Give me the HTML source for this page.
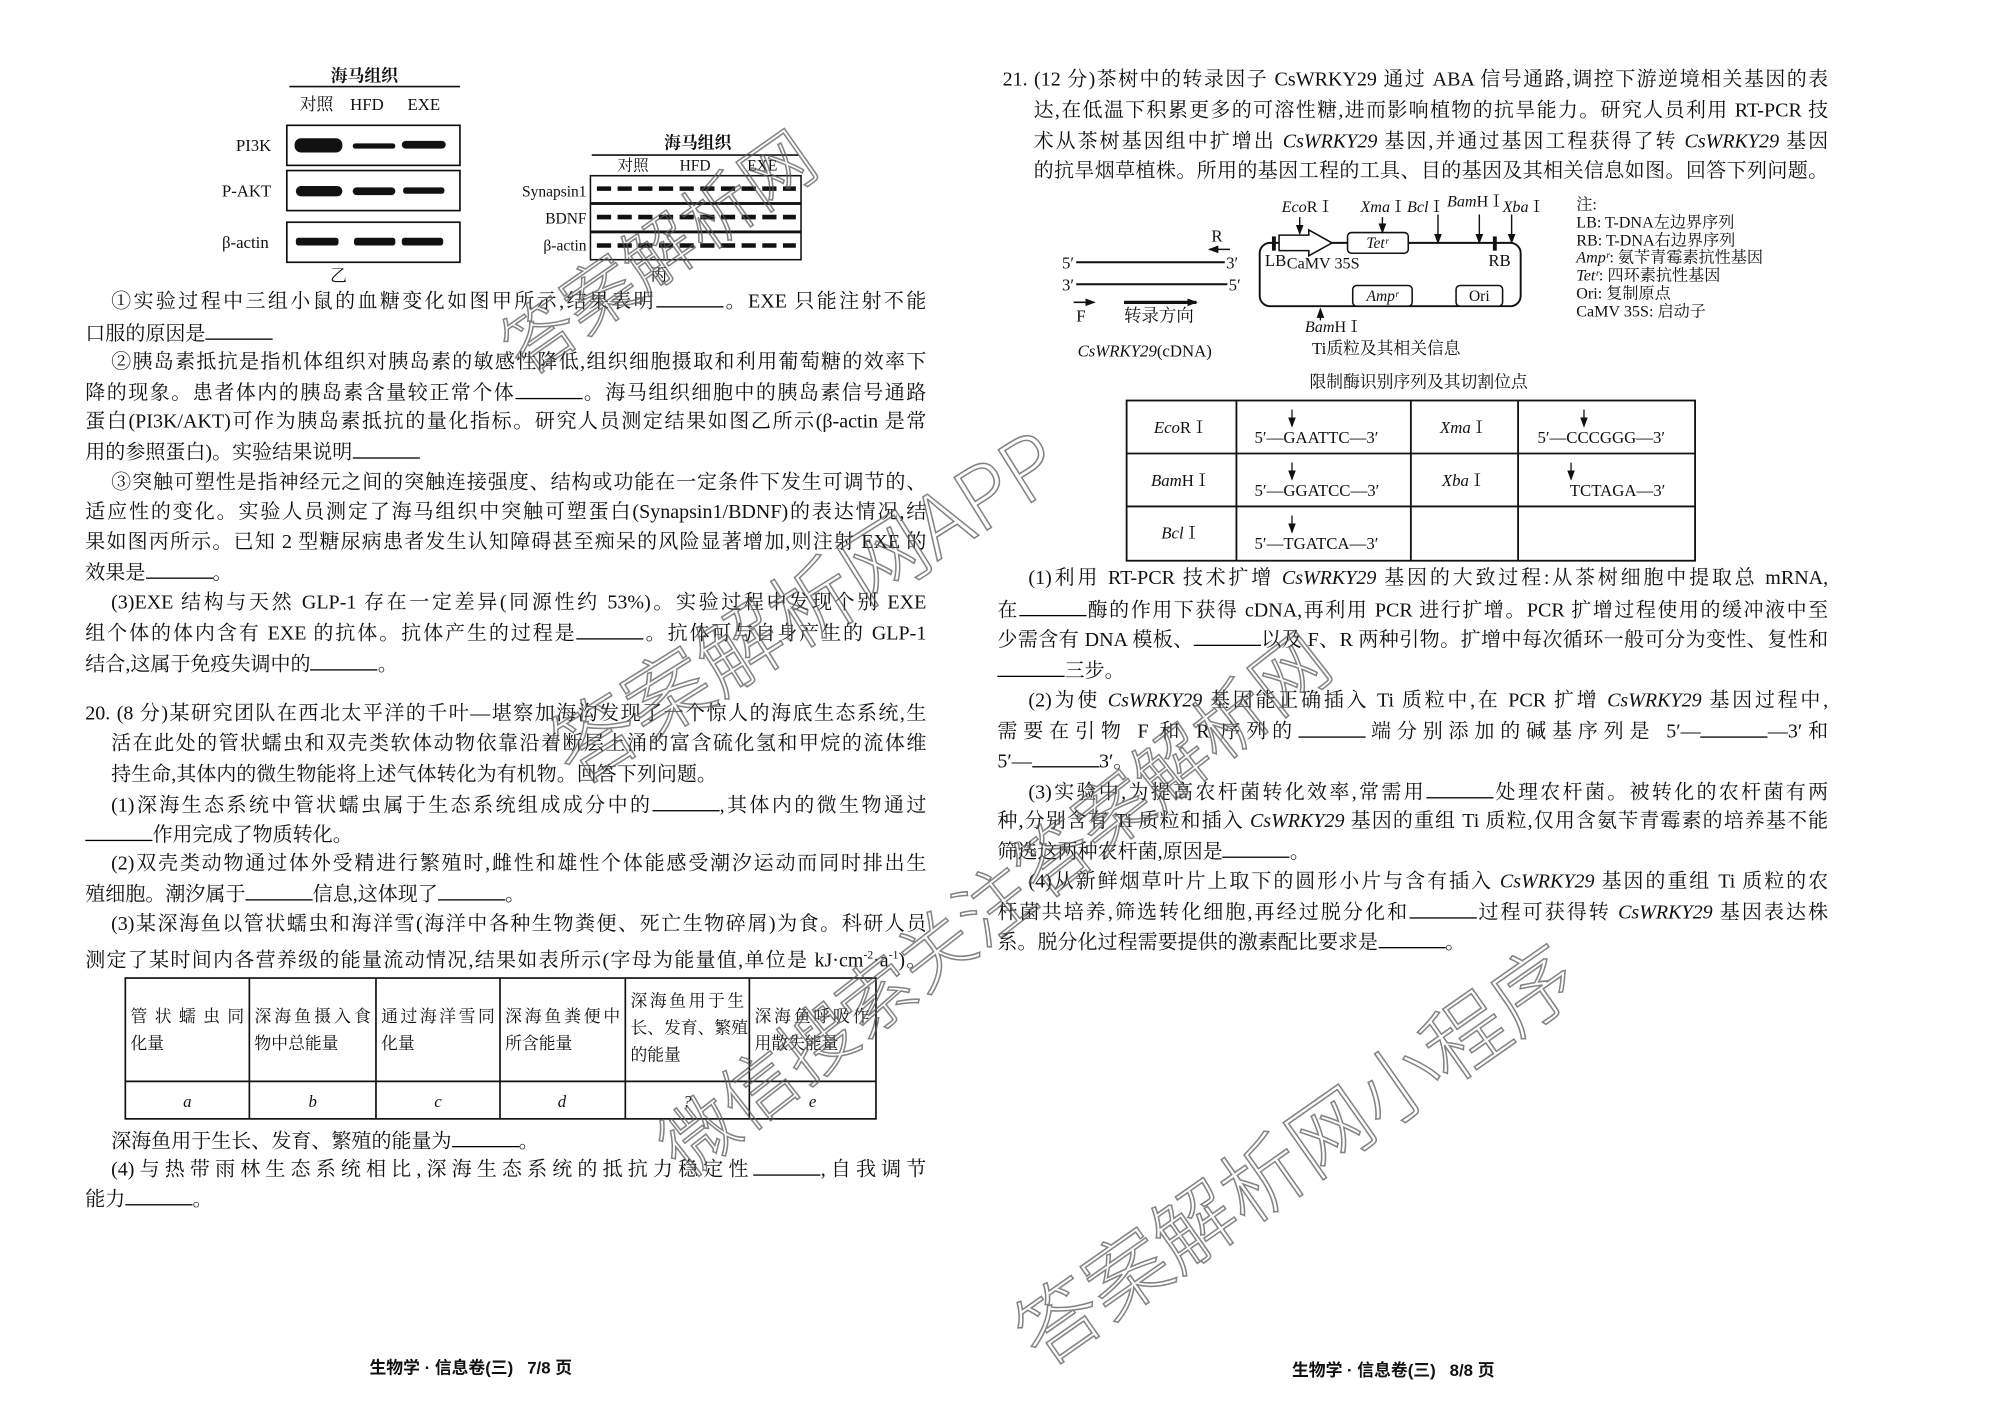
<!DOCTYPE html>
<html><head><meta charset="utf-8">
<style>
html,body{margin:0;padding:0;background:#fff;}
body{width:2000px;height:1415px;overflow:hidden;position:relative;}
#c{position:absolute;left:0;top:0;width:1548px;height:1095px;transform:scale(1.29199);transform-origin:0 0;font-family:"Liberation Serif","Noto Serif CJK SC",serif;color:#111;}
.ln{position:absolute;white-space:nowrap;font-size:15.5px;line-height:18px;text-align:justify;text-align-last:justify;}
.s{text-align:left;text-align-last:left;}
.b{display:inline-block;width:52px;border-bottom:1px solid #000;height:13px;vertical-align:baseline;}
i{font-style:italic;}
.wm{position:absolute;white-space:nowrap;color:rgba(255,255,255,0);-webkit-text-stroke:1.2px rgba(90,90,90,0.75);font-family:"Noto Sans CJK SC","Liberation Sans",sans-serif;font-weight:300;transform-origin:0 0;}
svg{position:absolute;left:0;top:0;}
svg text{font-family:"Liberation Serif","Noto Serif CJK SC",serif;fill:#111;}
.ft{position:absolute;font-family:"Liberation Sans","Noto Sans CJK SC",sans-serif;font-weight:bold;font-size:13px;}
</style></head><body>
<div id="c">
<svg width="1548" height="1095" viewBox="0 0 1548 1095">
<text x="282" y="63" font-size="13" text-anchor="middle" font-weight="bold">海马组织</text>
<line x1="224" y1="67" x2="356" y2="67" stroke="#111" stroke-width="1.2"/>
<text x="245" y="85" font-size="13" text-anchor="middle">对照</text>
<text x="284" y="85" font-size="13" text-anchor="middle">HFD</text>
<text x="328" y="85" font-size="13" text-anchor="middle">EXE</text>
<g fill="none" stroke="#111" stroke-width="1.3">
<rect x="222" y="97" width="134" height="31"/>
<rect x="222" y="132" width="134" height="31"/>
<rect x="222" y="172" width="134" height="31"/>
</g>
<g fill="#111">
<rect x="228" y="107" width="37" height="11" rx="5"/>
<rect x="273" y="111" width="33" height="4" rx="2"/>
<rect x="311" y="109" width="34" height="6" rx="3"/>
<rect x="229" y="144" width="36" height="8" rx="4"/>
<rect x="273" y="145" width="33" height="6" rx="3"/>
<rect x="312" y="145" width="32" height="5" rx="2"/>
<rect x="229" y="184" width="33" height="6" rx="2"/>
<rect x="274" y="184" width="32" height="6" rx="2"/>
<rect x="311" y="184" width="32" height="6" rx="2"/>
</g>
<text x="210" y="117" font-size="13" text-anchor="end">PI3K</text>
<text x="210" y="152" font-size="13" text-anchor="end">P-AKT</text>
<text x="208" y="192" font-size="13" text-anchor="end">β-actin</text>
<text x="262" y="218" font-size="13" text-anchor="middle">乙</text>
<text x="540" y="115" font-size="13" text-anchor="middle" font-weight="bold">海马组织</text>
<line x1="458" y1="120" x2="618" y2="120" stroke="#111" stroke-width="1.2"/>
<text x="490" y="132" font-size="12" text-anchor="middle">对照</text>
<text x="538" y="132" font-size="12" text-anchor="middle">HFD</text>
<text x="590" y="132" font-size="12" text-anchor="middle">EXE</text>
<g fill="none" stroke="#111" stroke-width="1.2">
<rect x="457" y="136" width="163" height="21"/>
<rect x="457" y="158" width="163" height="21"/>
<rect x="457" y="180" width="163" height="21"/>
</g>
<g stroke="#111" stroke-width="3.5" stroke-dasharray="11 5">
<line x1="462" y1="146" x2="616" y2="146"/>
<line x1="462" y1="168" x2="616" y2="168"/>
<line x1="462" y1="190" x2="616" y2="190"/>
</g>
<text x="454" y="152" font-size="12" text-anchor="end">Synapsin1</text>
<text x="454" y="173" font-size="12" text-anchor="end">BDNF</text>
<text x="454" y="194" font-size="12" text-anchor="end">β-actin</text>
<text x="510" y="217" font-size="13" text-anchor="middle">丙</text>

<g fill="none" stroke="#111" stroke-width="1.3">
<rect x="97" y="757" width="581" height="109"/>
<line x1="97" y1="837" x2="678" y2="837"/>
<line x1="193" y1="757" x2="193" y2="866"/>
<line x1="291" y1="757" x2="291" y2="866"/>
<line x1="387" y1="757" x2="387" y2="866"/>
<line x1="484" y1="757" x2="484" y2="866"/>
<line x1="580" y1="757" x2="580" y2="866"/>
</g>
<g font-size="13">
<text x="101" y="791" textLength="88">管状蠕虫同</text><text x="101" y="812">化量</text>
<text x="197" y="791" textLength="90">深海鱼摄入食</text><text x="197" y="812">物中总能量</text>
<text x="295" y="791" textLength="88">通过海洋雪同</text><text x="295" y="812">化量</text>
<text x="391" y="791" textLength="89">深海鱼粪便中</text><text x="391" y="812">所含能量</text>
<text x="488" y="779" textLength="88">深海鱼用于生</text><text x="488" y="800">长、发育、繁殖</text><text x="488" y="821">的能量</text>
<text x="584" y="791" textLength="89">深海鱼呼吸作</text><text x="584" y="812">用散失能量</text>
</g>
<g font-size="13" font-style="italic" text-anchor="middle">
<text x="145" y="857">a</text><text x="242" y="857">b</text><text x="339" y="857">c</text><text x="435" y="857">d</text><text x="532" y="857">?</text><text x="629" y="857">e</text>
</g>

<defs><marker id="ah" markerWidth="8" markerHeight="8" refX="7" refY="4" orient="auto" markerUnits="userSpaceOnUse"><path d="M0,1 L8,4 L0,7 z" fill="#111"/></marker></defs>
<text x="942" y="187" font-size="13" text-anchor="middle">R</text>
<line x1="952" y1="193" x2="936" y2="193" stroke="#111" stroke-width="1.2" marker-end="url(#ah)"/>
<text x="822" y="208" font-size="13">5′</text>
<line x1="833" y1="203" x2="948" y2="203" stroke="#111" stroke-width="1.5"/>
<text x="949" y="208" font-size="13">3′</text>
<text x="822" y="225" font-size="13">3′</text>
<line x1="833" y1="220" x2="950" y2="220" stroke="#111" stroke-width="1.5"/>
<text x="951" y="225" font-size="13">5′</text>
<line x1="831" y1="234" x2="847" y2="234" stroke="#111" stroke-width="1.2" marker-end="url(#ah)"/>
<text x="833" y="249" font-size="13">F</text>
<line x1="870" y1="234" x2="926" y2="234" stroke="#111" stroke-width="2.5" marker-end="url(#ah)"/>
<text x="897" y="249" font-size="13.5" text-anchor="middle">转录方向</text>
<text x="886" y="276" font-size="13" text-anchor="middle"><tspan font-style="italic">CsWRKY29</tspan>(cDNA)</text>

<rect x="975" y="188" width="202" height="49" rx="8" fill="none" stroke="#111" stroke-width="1.5"/>
<polygon points="990,182 1013,182 1013,178 1031,188 1013,198 1013,194 990,194" fill="#fff" stroke="#111" stroke-width="1.2"/>
<rect x="1043" y="180" width="47" height="16" rx="3" fill="#fff" stroke="#111" stroke-width="1.2"/>
<text x="1066" y="192" font-size="12" text-anchor="middle" font-style="italic">Tetʳ</text>
<line x1="986" y1="183" x2="986" y2="194" stroke="#111" stroke-width="3"/>
<line x1="1157" y1="183" x2="1157" y2="194" stroke="#111" stroke-width="3"/>
<text x="979" y="206" font-size="13">LB</text>
<text x="996" y="208" font-size="12.5">CaMV 35S</text>
<text x="1152" y="206" font-size="13">RB</text>
<rect x="1047" y="221" width="46" height="16" rx="3" fill="#fff" stroke="#111" stroke-width="1.2"/>
<text x="1070" y="233" font-size="12" text-anchor="middle" font-style="italic">Ampʳ</text>
<rect x="1127" y="221" width="36" height="16" rx="3" fill="#fff" stroke="#111" stroke-width="1.2"/>
<text x="1145" y="233" font-size="12" text-anchor="middle">Ori</text>
<g stroke="#111" stroke-width="1.1">
<line x1="1006" y1="168" x2="1006" y2="181" marker-end="url(#ah)"/>
<line x1="1070" y1="168" x2="1070" y2="180" marker-end="url(#ah)"/>
<line x1="1113" y1="166" x2="1113" y2="188" marker-end="url(#ah)"/>
<line x1="1145" y1="166" x2="1145" y2="188" marker-end="url(#ah)"/>
<line x1="1170" y1="166" x2="1170" y2="188" marker-end="url(#ah)"/>
<line x1="1022" y1="248" x2="1022" y2="239" marker-end="url(#ah)"/>
</g>
<g font-size="12.5">
<text x="992" y="164"><tspan font-style="italic">Eco</tspan>RⅠ</text>
<text x="1053" y="164"><tspan font-style="italic">Xma</tspan>Ⅰ</text>
<text x="1089" y="164"><tspan font-style="italic">Bcl</tspan>Ⅰ</text>
<text x="1120" y="160"><tspan font-style="italic">Bam</tspan>HⅠ</text>
<text x="1163" y="164"><tspan font-style="italic">Xba</tspan>Ⅰ</text>
<text x="1010" y="257"><tspan font-style="italic">Bam</tspan>HⅠ</text>
</g>
<text x="1073" y="274" font-size="13" text-anchor="middle">Ti质粒及其相关信息</text>
<g font-size="12.5">
<text x="1220" y="162">注:</text>
<text x="1220" y="176">LB: T-DNA左边界序列</text>
<text x="1220" y="190">RB: T-DNA右边界序列</text>
<text x="1220" y="203"><tspan font-style="italic">Ampʳ</tspan>: 氨苄青霉素抗性基因</text>
<text x="1220" y="217"><tspan font-style="italic">Tetʳ</tspan>: 四环素抗性基因</text>
<text x="1220" y="231">Ori: 复制原点</text>
<text x="1220" y="245">CaMV 35S: 启动子</text>
</g>
<text x="1098" y="300" font-size="13" text-anchor="middle">限制酶识别序列及其切割位点</text>

<g fill="none" stroke="#111" stroke-width="1.4">
<rect x="872" y="310" width="440" height="124"/>
<line x1="872" y1="351" x2="1312" y2="351"/>
<line x1="872" y1="392" x2="1312" y2="392"/>
<line x1="957" y1="310" x2="957" y2="434"/>
<line x1="1092" y1="310" x2="1092" y2="434"/>
<line x1="1175" y1="310" x2="1175" y2="434"/>
</g>
<g font-size="13">
<text x="914" y="335" text-anchor="middle"><tspan font-style="italic">Eco</tspan>RⅠ</text>
<text x="914" y="376" text-anchor="middle"><tspan font-style="italic">Bam</tspan>HⅠ</text>
<text x="914" y="417" text-anchor="middle"><tspan font-style="italic">Bcl</tspan>Ⅰ</text>
<text x="1133" y="335" text-anchor="middle"><tspan font-style="italic">Xma</tspan>Ⅰ</text>
<text x="1133" y="376" text-anchor="middle"><tspan font-style="italic">Xba</tspan>Ⅰ</text>
<text x="971" y="343">5′—GAATTC—3′</text>
<text x="971" y="384">5′—GGATCC—3′</text>
<text x="971" y="425">5′—TGATCA—3′</text>
<text x="1190" y="343">5′—CCCGGG—3′</text>
<text x="1215" y="384">TCTAGA—3′</text>
</g>
<g stroke="#111" stroke-width="1">
<line x1="1000" y1="317" x2="1000" y2="330" marker-end="url(#ah)"/>
<line x1="1000" y1="358" x2="1000" y2="371" marker-end="url(#ah)"/>
<line x1="1000" y1="399" x2="1000" y2="412" marker-end="url(#ah)"/>
<line x1="1226" y1="317" x2="1226" y2="330" marker-end="url(#ah)"/>
<line x1="1216" y1="358" x2="1216" y2="371" marker-end="url(#ah)"/>
</g>
</svg>

<div class="ln" style="left:86px;top:224px;width:631px">①实验过程中三组小鼠的血糖变化如图甲所示,结果表明<span class="b"></span>。EXE 只能注射不能</div>
<div class="ln s" style="left:66px;top:249px">口服的原因是<span class="b"></span></div>
<div class="ln" style="left:86px;top:272px;width:631px">②胰岛素抵抗是指机体组织对胰岛素的敏感性降低,组织细胞摄取和利用葡萄糖的效率下</div>
<div class="ln" style="left:66px;top:295px;width:651px">降的现象。患者体内的胰岛素含量较正常个体<span class="b"></span>。海马组织细胞中的胰岛素信号通路</div>
<div class="ln" style="left:66px;top:318px;width:651px">蛋白(PI3K/AKT)可作为胰岛素抵抗的量化指标。研究人员测定结果如图乙所示(β-actin 是常</div>
<div class="ln s" style="left:66px;top:341px">用的参照蛋白)。实验结果说明<span class="b"></span></div>
<div class="ln" style="left:86px;top:365px;width:631px">③突触可塑性是指神经元之间的突触连接强度、结构或功能在一定条件下发生可调节的、</div>
<div class="ln" style="left:66px;top:388px;width:651px">适应性的变化。实验人员测定了海马组织中突触可塑蛋白(Synapsin1/BDNF)的表达情况,结</div>
<div class="ln" style="left:66px;top:411px;width:651px">果如图丙所示。已知 2 型糖尿病患者发生认知障碍甚至痴呆的风险显著增加,则注射 EXE 的</div>
<div class="ln s" style="left:66px;top:434px">效果是<span class="b"></span>。</div>
<div class="ln" style="left:86px;top:458px;width:631px">(3)EXE 结构与天然 GLP-1 存在一定差异(同源性约 53%)。实验过程中发现个别 EXE</div>
<div class="ln" style="left:66px;top:481px;width:651px">组个体的体内含有 EXE 的抗体。抗体产生的过程是<span class="b"></span>。抗体可与自身产生的 GLP-1</div>
<div class="ln s" style="left:66px;top:505px">结合,这属于免疫失调中的<span class="b"></span>。</div>
<div class="ln" style="left:66px;top:544px;width:651px">20. (8 分)某研究团队在西北太平洋的千叶—堪察加海沟发现了一个惊人的海底生态系统,生</div>
<div class="ln" style="left:86px;top:567px;width:631px">活在此处的管状蠕虫和双壳类软体动物依靠沿着断层上涌的富含硫化氢和甲烷的流体维</div>
<div class="ln s" style="left:86px;top:591px">持生命,其体内的微生物能将上述气体转化为有机物。回答下列问题。</div>
<div class="ln" style="left:86px;top:614px;width:631px">(1)深海生态系统中管状蠕虫属于生态系统组成成分中的<span class="b"></span>,其体内的微生物通过</div>
<div class="ln s" style="left:66px;top:637px"><span class="b"></span>作用完成了物质转化。</div>
<div class="ln" style="left:86px;top:660px;width:631px">(2)双壳类动物通过体外受精进行繁殖时,雌性和雄性个体能感受潮汐运动而同时排出生</div>
<div class="ln s" style="left:66px;top:683px">殖细胞。潮汐属于<span class="b"></span>信息,这体现了<span class="b"></span>。</div>
<div class="ln" style="left:86px;top:707px;width:631px">(3)某深海鱼以管状蠕虫和海洋雪(海洋中各种生物粪便、死亡生物碎屑)为食。科研人员</div>
<div class="ln" style="left:66px;top:730px;width:651px">测定了某时间内各营养级的能量流动情况,结果如表所示(字母为能量值,单位是 kJ·cm<sup style="font-size:9px">-2</sup>·a<sup style="font-size:9px">-1</sup>)。</div>
<div class="ln s" style="left:86px;top:874px">深海鱼用于生长、发育、繁殖的能量为<span class="b"></span>。</div>
<div class="ln" style="left:86px;top:896px;width:631px">(4)与热带雨林生态系统相比,深海生态系统的抵抗力稳定性<span class="b"></span>,自我调节</div>
<div class="ln s" style="left:66px;top:919px">能力<span class="b"></span>。</div>

<div class="ln" style="left:776px;top:53px;width:639px">21. (12 分)茶树中的转录因子 CsWRKY29 通过 ABA 信号通路,调控下游逆境相关基因的表</div>
<div class="ln" style="left:800px;top:77px;width:615px">达,在低温下积累更多的可溶性糖,进而影响植物的抗旱能力。研究人员利用 RT-PCR 技</div>
<div class="ln" style="left:800px;top:101px;width:615px">术从茶树基因组中扩增出 <i>CsWRKY29</i> 基因,并通过基因工程获得了转 <i>CsWRKY29</i> 基因</div>
<div class="ln" style="left:800px;top:124px;width:615px">的抗旱烟草植株。所用的基因工程的工具、目的基因及其相关信息如图。回答下列问题。</div>
<div class="ln" style="left:796px;top:439px;width:619px">(1)利用 RT-PCR 技术扩增 <i>CsWRKY29</i> 基因的大致过程:从茶树细胞中提取总 mRNA,</div>
<div class="ln" style="left:772px;top:463px;width:643px">在<span class="b"></span>酶的作用下获得 cDNA,再利用 PCR 进行扩增。PCR 扩增过程使用的缓冲液中至</div>
<div class="ln" style="left:772px;top:486px;width:643px">少需含有 DNA 模板、<span class="b"></span>以及 F、R 两种引物。扩增中每次循环一般可分为变性、复性和</div>
<div class="ln s" style="left:772px;top:510px"><span class="b"></span>三步。</div>
<div class="ln" style="left:796px;top:534px;width:619px">(2)为使 <i>CsWRKY29</i> 基因能正确插入 Ti 质粒中,在 PCR 扩增 <i>CsWRKY29</i> 基因过程中,</div>
<div class="ln" style="left:772px;top:557px;width:643px">需要在引物 F 和 R 序列的<span class="b"></span>端分别添加的碱基序列是 5′—<span class="b"></span>—3′和</div>
<div class="ln s" style="left:772px;top:580px">5′—<span class="b"></span>3′。</div>
<div class="ln" style="left:796px;top:604px;width:619px">(3)实验中,为提高农杆菌转化效率,常需用<span class="b"></span>处理农杆菌。被转化的农杆菌有两</div>
<div class="ln" style="left:772px;top:627px;width:643px">种,分别含有 Ti 质粒和插入 <i>CsWRKY29</i> 基因的重组 Ti 质粒,仅用含氨苄青霉素的培养基不能</div>
<div class="ln s" style="left:772px;top:650px">筛选这两种农杆菌,原因是<span class="b"></span>。</div>
<div class="ln" style="left:796px;top:674px;width:619px">(4)从新鲜烟草叶片上取下的圆形小片与含有插入 <i>CsWRKY29</i> 基因的重组 Ti 质粒的农</div>
<div class="ln" style="left:772px;top:697px;width:643px">杆菌共培养,筛选转化细胞,再经过脱分化和<span class="b"></span>过程可获得转 <i>CsWRKY29</i> 基因表达株</div>
<div class="ln s" style="left:772px;top:720px">系。脱分化过程需要提供的激素配比要求是<span class="b"></span>。</div>

<div class="ft" style="left:286px;top:1048px">生物学 · 信息卷(三)&nbsp;&nbsp;&nbsp;7/8 页</div>
<div class="ft" style="left:1000px;top:1050px">生物学 · 信息卷(三)&nbsp;&nbsp;&nbsp;8/8 页</div>

<div class="wm" style="left:370px;top:240px;font-size:56px;transform:rotate(-35deg)">答案解析网</div>
<div class="wm" style="left:405px;top:545px;font-size:66px;transform:rotate(-32deg)">答案解析网APP</div>
<div class="wm" style="left:490px;top:860px;font-size:58px;transform:rotate(-38deg)">微信搜索关注答案解析网</div>
<div class="wm" style="left:765px;top:1000px;font-size:64px;transform:rotate(-35deg)">答案解析网小程序</div>
</div>
</body></html>
